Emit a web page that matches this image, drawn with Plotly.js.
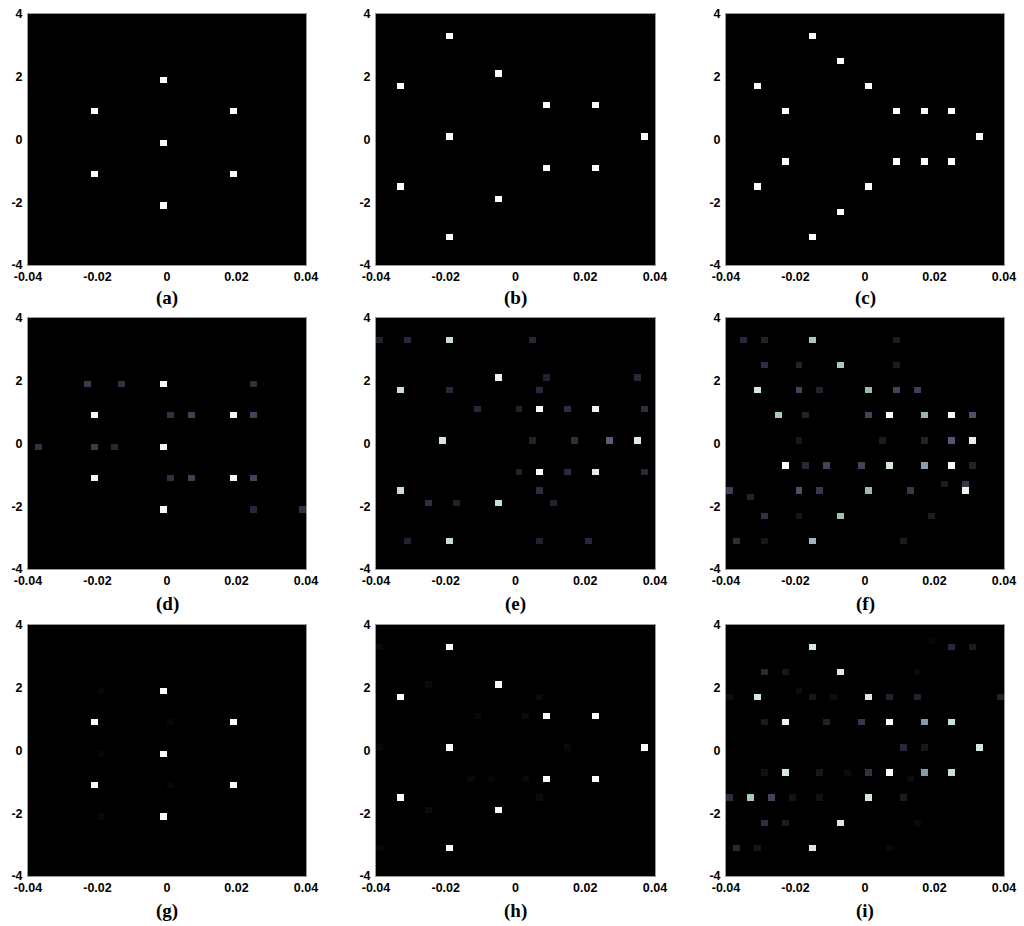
<!DOCTYPE html>
<html>
<head>
<meta charset="utf-8">
<script src="https://cdn.plot.ly/plotly-3.0.1.min.js"></script>
<style>html,body{margin:0;padding:0;background:#fff;}#chart{width:1024px;height:926px;}</style>
</head>
<body>
<div id="chart"></div>
<script>
// Each panel: list of [x, y, intensity] for the non-zero cells (all other cells are 0)
const panelA = [[-0.001,1.9,1],[-0.021,0.9,1],[0.019,0.9,1],[-0.001,-0.1,1],[-0.021,-1.1,1],[0.019,-1.1,1],[-0.001,-2.1,1]];
const panelB = [[-0.019,3.3,1],[-0.033,1.7,1],[-0.005,2.1,1],[0.009,1.1,1],[0.023,1.1,1],[-0.019,0.1,1],[0.037,0.1,1],[0.009,-0.9,1],[0.023,-0.9,1],[-0.033,-1.5,1],[-0.005,-1.9,1],[-0.019,-3.1,1]];
const panelC = [[-0.015,3.3,1],[-0.007,2.5,1],[-0.031,1.7,1],[0.001,1.7,1],[-0.023,0.9,1],[0.009,0.9,1],[0.017,0.9,1],[0.025,0.9,1],[0.033,0.1,1],[-0.023,-0.7,1],[0.009,-0.7,1],[0.017,-0.7,1],[0.025,-0.7,1],[-0.031,-1.5,1],[0.001,-1.5,1],[-0.007,-2.3,1],[-0.015,-3.1,1]];
const panelD = [[-0.001,1.9,0.97],[-0.021,0.9,0.97],[0.019,0.9,0.97],[-0.001,-0.1,0.97],[-0.021,-1.1,0.97],[0.019,-1.1,0.97],[-0.001,-2.1,0.97],
  [-0.023,1.9,0.26],[-0.013,1.9,0.22],[0.025,1.9,0.2],[0.001,0.9,0.22],[0.007,0.9,0.28],[0.025,0.9,0.3],[-0.037,-0.1,0.22],[-0.021,-0.1,0.26],[-0.015,-0.1,0.18],[0.001,-1.1,0.22],[0.007,-1.1,0.28],[0.025,-1.1,0.3],[0.025,-2.1,0.18],[0.039,-2.1,0.22]];
const panelE = [[-0.039,3.3,0.15],[-0.031,3.3,0.18],[-0.019,3.3,0.85],[0.005,3.3,0.18],
  [-0.005,2.1,0.95],[0.009,2.1,0.15],[0.035,2.1,0.18],
  [-0.033,1.7,0.85],[-0.019,1.7,0.18],[0.007,1.7,0.18],
  [-0.011,1.1,0.18],[0.001,1.1,0.15],[0.007,1.1,1],[0.015,1.1,0.2],[0.023,1.1,0.95],[0.037,1.1,0.2],
  [-0.021,0.1,0.88],[0.005,0.1,0.15],[0.017,0.1,0.2],[0.027,0.1,0.4],[0.035,0.1,0.9],
  [0.001,-0.9,0.15],[0.007,-0.9,1],[0.015,-0.9,0.2],[0.023,-0.9,0.92],[0.037,-0.9,0.18],
  [-0.033,-1.5,0.85],[0.007,-1.5,0.2],
  [-0.025,-1.9,0.2],[-0.017,-1.9,0.15],[-0.005,-1.9,0.85],[0.011,-1.9,0.15],
  [-0.031,-3.1,0.15],[-0.019,-3.1,0.85],[0.007,-3.1,0.15],[0.021,-3.1,0.18]];
const panelF = [[-0.035,3.3,0.18],[-0.029,3.3,0.15],[-0.015,3.3,0.75],[0.009,3.3,0.12],
  [-0.029,2.5,0.2],[-0.019,2.5,0.15],[-0.007,2.5,0.75],[0.009,2.5,0.12],
  [-0.031,1.7,0.88],[-0.019,1.7,0.3],[-0.013,1.7,0.15],[0.001,1.7,0.7],[0.009,1.7,0.3],[0.015,1.7,0.28],
  [-0.025,0.9,0.75],[-0.017,0.9,0.15],[0.001,0.9,0.3],[0.007,0.9,1],[0.017,0.9,0.68],[0.025,0.9,0.97],[0.031,0.9,0.35],
  [-0.019,0.1,0.1],[0.005,0.1,0.12],[0.017,0.1,0.15],[0.025,0.1,0.38],[0.031,0.1,0.93],
  [-0.023,-0.7,1],[-0.017,-0.7,0.18],[-0.011,-0.7,0.3],[-0.001,-0.7,0.3],[0.007,-0.7,0.88],[0.017,-0.7,0.62],[0.025,-0.7,0.97],[0.031,-0.7,0.15],
  [0.023,-1.3,0.12],[0.029,-1.3,0.25],
  [-0.039,-1.5,0.28],[-0.019,-1.5,0.35],[-0.013,-1.5,0.25],[0.001,-1.5,0.7],[0.013,-1.5,0.25],[0.029,-1.5,0.95],
  [-0.033,-1.7,0.15],
  [-0.029,-2.3,0.22],[-0.019,-2.3,0.1],[-0.007,-2.3,0.72],[0.019,-2.3,0.12],
  [-0.037,-3.1,0.2],[-0.029,-3.1,0.1],[-0.015,-3.1,0.7],[0.011,-3.1,0.12]];
const panelG = [[-0.001,1.9,1],[-0.021,0.9,1],[0.019,0.9,1],[-0.001,-0.1,1],[-0.021,-1.1,1],[0.019,-1.1,1],[-0.001,-2.1,1],
  [-0.019,1.9,0.03],[0.001,0.9,0.03],[-0.019,-0.1,0.03],[0.001,-1.1,0.03],[-0.019,-2.1,0.03]];
const panelH = [[-0.019,3.3,1],[-0.033,1.7,1],[-0.005,2.1,1],[0.009,1.1,1],[0.023,1.1,1],[-0.019,0.1,1],[0.037,0.1,1],[0.009,-0.9,1],[0.023,-0.9,1],[-0.033,-1.5,1],[-0.005,-1.9,1],[-0.019,-3.1,1],
  [-0.039,3.3,0.04],[-0.025,2.1,0.05],[0.007,1.7,0.05],[-0.011,1.1,0.04],[0.003,1.1,0.05],[-0.039,0.1,0.03],[0.015,0.1,0.04],[-0.013,-0.9,0.04],[-0.007,-0.9,0.03],[0.003,-0.9,0.04],[0.007,-1.5,0.05],[-0.025,-1.9,0.05],[-0.039,-3.1,0.03]];
const panelI = [[-0.015,3.3,0.88],[0.019,3.5,0.03],[0.025,3.3,0.18],[0.031,3.3,0.12],
  [-0.029,2.5,0.18],[-0.023,2.5,0.1],[-0.007,2.5,0.9],[0.015,2.5,0.04],
  [-0.019,1.9,0.05],
  [-0.039,1.7,0.06],[-0.031,1.7,0.88],[-0.015,1.7,0.1],[-0.009,1.7,0.06],[0.001,1.7,0.9],[0.007,1.7,0.15],[0.015,1.7,0.15],[0.039,1.7,0.15],
  [-0.029,0.9,0.12],[-0.023,0.9,0.95],[-0.011,0.9,0.15],[-0.001,0.9,0.25],[0.007,0.9,1],[0.017,0.9,0.6],[0.025,0.9,0.85],
  [0.011,0.1,0.18],[0.017,0.1,0.1],[0.033,0.1,0.88],
  [-0.029,-0.7,0.07],[-0.023,-0.7,0.88],[-0.013,-0.7,0.1],[-0.005,-0.7,0.05],[0.001,-0.7,0.22],[0.007,-0.7,1],[0.017,-0.7,0.6],[0.025,-0.7,0.85],
  [0.013,-0.9,0.05],
  [-0.039,-1.5,0.2],[-0.033,-1.5,0.75],[-0.027,-1.5,0.3],[-0.021,-1.5,0.08],[-0.013,-1.5,0.07],[0.001,-1.5,0.88],[0.011,-1.5,0.12],
  [-0.029,-2.3,0.2],[-0.023,-2.3,0.12],[-0.007,-2.3,0.9],[0.015,-2.3,0.04],
  [-0.037,-3.1,0.18],[-0.031,-3.1,0.1],[-0.015,-3.1,0.9],[0.007,-3.1,0.04]];

const panels = [panelA, panelB, panelC, panelD, panelE, panelF, panelG, panelH, panelI];
const panelLabels = ['(a)','(b)','(c)','(d)','(e)','(f)','(g)','(h)','(i)'];
const xTickVals = [-0.04, -0.02, 0, 0.02, 0.04];
const xTickText = ['-0.04', '-0.02', '0', '0.02', '0.04'];
const yTickVals = [-4, -2, 0, 2, 4];
const yTickText = ['-4', '-2', '0', '2', '4'];

// grid of the image: 40 x 40 cells over [-0.04,0.04] x [-4,4]
const NX = 40, NY = 40, DX = 0.002, DY = 0.2, X0 = -0.039, Y0 = -3.9;

// MATLAB "bone" colormap
const bone = [[0,'rgb(0,0,0)'],[0.375,'rgb(84,84,116)'],[0.75,'rgb(167,199,199)'],[1,'rgb(255,255,255)']];

function buildZ(points) {
  const z = [];
  for (let j = 0; j < NY; j++) z.push(new Array(NX).fill(0));
  points.forEach(p => {
    const i = Math.round((p[0] - X0) / DX);
    const j = Math.round((p[1] - Y0) / DY);
    if (i >= 0 && i < NX && j >= 0 && j < NY) z[j][i] = p[2];
  });
  return z;
}

// panel domains (paper fractions)
const colDomains = [[28/1024, 306/1024], [376/1024, 655/1024], [726/1024, 1004/1024]];
const rowDomains = [[1-265/926, 1-14/926], [1-569/926, 1-318/926], [1-876/926, 1-625/926]];
const labelY = [1-298/926, 1-604/926, 1-911/926];

const data = [];
const layout = {
  width: 1024, height: 926,
  margin: {l: 0, r: 0, t: 0, b: 0},
  paper_bgcolor: '#ffffff',
  showlegend: false,
  annotations: []
};
const tickFont = {family: 'Liberation Sans, Arial, sans-serif', size: 12.5, color: '#000', weight: 700};

panels.forEach((pts, k) => {
  const n = k + 1;
  const row = Math.floor(k / 3), col = k % 3;
  const xa = n === 1 ? 'x' : 'x' + n;
  const ya = n === 1 ? 'y' : 'y' + n;
  data.push({
    type: 'heatmap',
    z: buildZ(pts),
    x0: X0, dx: DX, y0: Y0, dy: DY,
    zmin: 0, zmax: 1,
    colorscale: bone,
    showscale: false,
    zsmooth: false,
    xaxis: xa, yaxis: ya,
    hoverinfo: 'skip'
  });
  layout['xaxis' + (n === 1 ? '' : n)] = {
    domain: colDomains[col], anchor: ya,
    range: [-0.04, 0.04], tickvals: xTickVals, ticktext: xTickText,
    showgrid: false, zeroline: false, ticks: '', ticklabelstandoff: 0,
    showline: true, linecolor: '#9a9a9a', linewidth: 1, mirror: true,
    tickfont: tickFont, fixedrange: true
  };
  layout['yaxis' + (n === 1 ? '' : n)] = {
    domain: rowDomains[row], anchor: xa,
    range: [-4, 4], tickvals: yTickVals, ticktext: yTickText,
    showgrid: false, zeroline: false, ticks: '', ticklabelstandoff: 2,
    showline: true, linecolor: '#9a9a9a', linewidth: 1, mirror: true,
    tickfont: tickFont, fixedrange: true
  };
  layout.annotations.push({
    text: panelLabels[k], showarrow: false,
    xref: 'paper', yref: 'paper',
    x: (colDomains[col][0] + colDomains[col][1]) / 2, y: labelY[row],
    xanchor: 'center', yanchor: 'middle',
    font: {family: 'Liberation Serif, Times New Roman, serif', size: 19, color: '#000', weight: 700}
  });
});
layout.plot_bgcolor = '#000000';

Plotly.newPlot('chart', data, layout, {staticPlot: true, displayModeBar: false});
</script>
</body>
</html>
